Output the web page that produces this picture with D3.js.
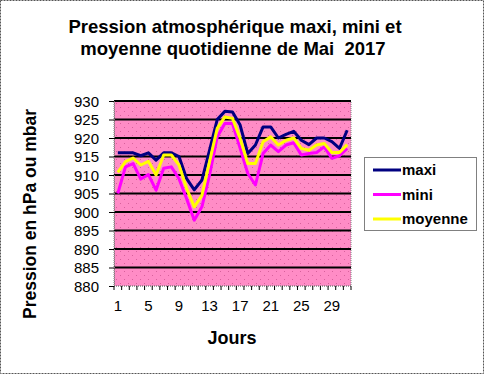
<!DOCTYPE html>
<html>
<head>
<meta charset="utf-8">
<script src="https://cdn.jsdelivr.net/npm/d3@7"></script>
<style>
  body { margin: 0; background: #fff; }
  text { font-family: Arial, "Liberation Sans", sans-serif; fill: #000; }
</style>
</head>
<body>
<div id="chart"></div>
<script>
// days of May 2017
const days = d3.range(1, 32)
const dayTicks = [1, 5, 9, 13, 17, 21, 25, 29]
const yTicks = [880, 885, 890, 895, 900, 905, 910, 915, 920, 925, 930]

const maxi = [916, 916, 916, 915.2, 916, 914, 916, 916, 915, 909, 906, 908.6, 916.7, 925, 927.2,
  927, 923.5, 915.8, 918.1, 923, 923, 920, 921, 921.8, 919.4, 918.2, 920, 920, 919, 917.2, 922.1]
const mini = [905, 912.2, 913.1, 908.9, 910.1, 905.9, 911.8, 912.2, 909, 903.6, 897.8, 901.4, 910, 920.3, 923.9,
  923.9, 917.2, 910.4, 907.3, 915.8, 918.1, 916.3, 918.1, 918.7, 915.4, 915.8, 916.1, 917.6, 914.5, 915.2, 917.2]
const moyenne = [910.7, 913.6, 914.6, 912.7, 913.7, 910, 915.4, 915.4, 912.7, 906.4, 901.4, 904.5, 913.6, 922.6, 925.7,
  925.3, 919.9, 913.1, 913.1, 919, 920.3, 918.1, 919.4, 920, 917.2, 916.7, 918.1, 918.5, 916.1, 916.1, 918.2]

const series = [
  { name: 'maxi', values: maxi, color: '#000080' },
  { name: 'mini', values: mini, color: '#FF00FF' },
  { name: 'moyenne', values: moyenne, color: '#FFFF00' }
]

const W = 484, H = 374
const plot = { left: 114, top: 101, right: 351, bottom: 286 }

const svg = d3.select('#chart').append('svg')
  .attr('width', W).attr('height', H)

// outer dashed frame
svg.append('rect')
  .attr('x', 0.5).attr('y', 0.5).attr('width', W - 1).attr('height', H - 1)
  .attr('fill', '#fff').attr('stroke', '#555').attr('stroke-dasharray', '2,1')

// dotted pink pattern for the plot background
const pat = svg.append('defs').append('pattern')
  .attr('id', 'dots').attr('patternUnits', 'userSpaceOnUse')
  .attr('width', 8).attr('height', 8).attr('x', plot.left).attr('y', plot.top)
pat.append('rect').attr('width', 8).attr('height', 8).attr('fill', '#FF8CC6')
pat.append('rect').attr('x', 2).attr('y', 2).attr('width', 1).attr('height', 1).attr('fill', '#D8609C')
pat.append('rect').attr('x', 6).attr('y', 6).attr('width', 1).attr('height', 1).attr('fill', '#D8609C')

const x = d3.scaleBand().domain(days).range([plot.left, plot.right])
const y = d3.scaleLinear().domain([880, 930]).range([plot.bottom, plot.top])

svg.append('rect')
  .attr('x', plot.left).attr('y', plot.top)
  .attr('width', plot.right - plot.left).attr('height', plot.bottom - plot.top)
  .attr('fill', 'url(#dots)').attr('stroke', '#808080').attr('stroke-dasharray', '1,1')

// gridlines
svg.append('g')
  .selectAll('line')
  .data(yTicks.filter(d => d > 880))
  .enter().append('line')
  .attr('x1', plot.left).attr('x2', plot.right)
  .attr('y1', d => y(d)).attr('y2', d => y(d))
  .attr('stroke', '#000').attr('stroke-width', 2)

// y axis
svg.append('g')
  .attr('transform', 'translate(' + plot.left + ',0)')
  .call(d3.axisLeft(y).tickValues(yTicks).tickSize(5).tickPadding(10))
  .call(g => g.select('.domain').attr('stroke', '#808080').attr('stroke-dasharray', '1,1'))
  .call(g => g.selectAll('.tick line').attr('stroke', '#000'))
  .call(g => g.selectAll('.tick text').style('font-size', '15px').attr('dy', '0.35em'))

// x axis: ticks between categories, labels centered on days
const xg = svg.append('g')
  .attr('transform', 'translate(0,' + plot.bottom + ')')
xg.append('line')
  .attr('x1', plot.left).attr('x2', plot.right)
  .attr('stroke', '#808080').attr('stroke-dasharray', '1,1')
xg.selectAll('.tk')
  .data(days.concat([32]))
  .enter().append('line')
  .attr('x1', d => plot.left + (d - 1) * x.step())
  .attr('x2', d => plot.left + (d - 1) * x.step())
  .attr('y1', 0).attr('y2', 4)
  .attr('stroke', '#000')
xg.selectAll('text')
  .data(dayTicks)
  .enter().append('text')
  .attr('x', d => x(d) + x.bandwidth() / 2)
  .attr('y', 25)
  .attr('text-anchor', 'middle')
  .style('font-size', '15px')
  .text(d => d)

// series lines
const line = d3.line()
  .x((d, i) => x(days[i]) + x.bandwidth() / 2)
  .y(d => y(d))

svg.append('g')
  .selectAll('path')
  .data(series)
  .enter().append('path')
  .attr('d', d => line(d.values))
  .attr('fill', 'none')
  .attr('stroke', d => d.color)
  .attr('stroke-width', 3)
  .attr('stroke-linejoin', 'round')

// titles
svg.append('text')
  .attr('x', 235).attr('y', 33)
  .attr('text-anchor', 'middle')
  .style('font-size', '18.5px').style('font-weight', 'bold')
  .text('Pression atmosphérique maxi, mini et')
svg.append('text')
  .attr('x', 233).attr('y', 55)
  .attr('text-anchor', 'middle')
  .style('font-size', '18.5px').style('font-weight', 'bold')
  .style('white-space', 'pre')
  .text('moyenne quotidienne de Mai  2017')

svg.append('text')
  .attr('x', 232).attr('y', 344)
  .attr('text-anchor', 'middle')
  .style('font-size', '18px').style('font-weight', 'bold')
  .text('Jours')

svg.append('text')
  .attr('transform', 'translate(36,214) rotate(-90)')
  .attr('text-anchor', 'middle')
  .style('font-size', '17.5px').style('font-weight', 'bold')
  .text('Pression en hPa ou mbar')

// legend
const leg = svg.append('g').attr('transform', 'translate(364,157)')
leg.append('rect')
  .attr('x', 0.5).attr('y', 0.5).attr('width', 112).attr('height', 73)
  .attr('fill', '#fff').attr('stroke', '#808080')
const li = leg.selectAll('.item')
  .data(series)
  .enter().append('g')
  .attr('transform', (d, i) => 'translate(0,' + (13 + i * 24.5) + ')')
li.append('line')
  .attr('x1', 9).attr('x2', 37)
  .attr('stroke', d => d.color).attr('stroke-width', 3)
li.append('text')
  .attr('x', 38).attr('dy', '0.35em')
  .style('font-size', '15px').style('font-weight', 'bold')
  .text(d => d.name)
</script>
</body>
</html>
